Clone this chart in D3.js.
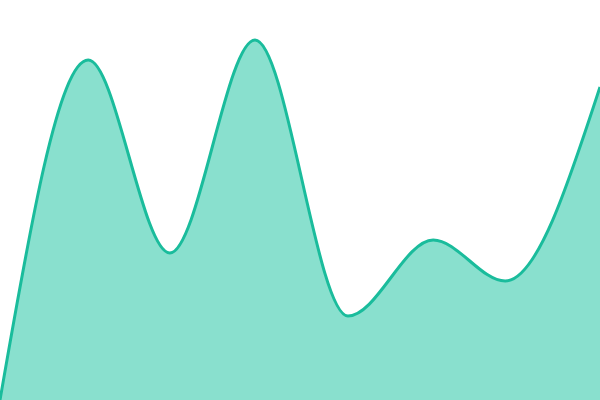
<!DOCTYPE html>
<html>
<head>
<meta charset="utf-8">
<script src="https://cdn.jsdelivr.net/npm/d3@7"></script>
<style>
  html, body { margin: 0; padding: 0; background: #fff; }
  svg { display: block; }
</style>
</head>
<body>
<div id="chart"></div>
<script>
// one series, points at uneven positions along x
const positions = [0, 14.7, 28.3, 42.5, 58, 72.2, 84.2, 100];
const values = [0, 85, 36.75, 90, 21, 40, 29.75, 78.25];

const width = 600, height = 400;

const svg = d3.select("#chart").append("svg")
    .attr("width", width).attr("height", height);

const x = d3.scaleLinear().domain([0, 100]).range([0, width]);
const y = d3.scaleLinear().domain([0, 100]).range([height, 0]);

const data = positions.map((p, i) => ({ p: p, v: values[i] }));

const area = d3.area()
    .x(d => x(d.p))
    .y0(height)
    .y1(d => y(d.v))
    .curve(d3.curveMonotoneX);

const line = d3.line()
    .x(d => x(d.p))
    .y(d => y(d.v))
    .curve(d3.curveMonotoneX);

svg.append("path").datum(data)
    .attr("d", area)
    .attr("fill", "#89e0ce");

svg.append("path").datum(data)
    .attr("d", line)
    .attr("fill", "none")
    .attr("stroke", "#1abc9c")
    .attr("stroke-width", 3);
</script>
</body>
</html>
